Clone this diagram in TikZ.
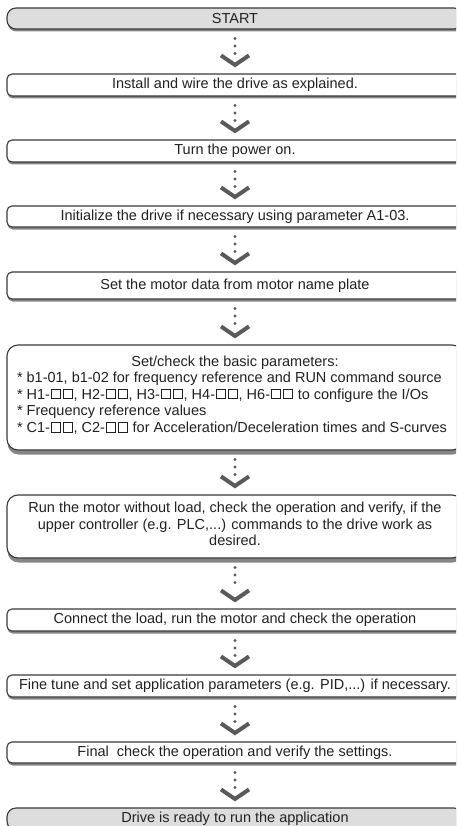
\documentclass[tikz,border=0pt]{standalone}
\usepackage{fontspec}
\setmainfont{Liberation Sans}
\usetikzlibrary{shadows,calc}
\definecolor{boxline}{HTML}{3A3A3A}
\definecolor{startfill}{HTML}{DDDDDD}
\definecolor{shadowcol}{HTML}{858585}
\definecolor{arrowcol}{HTML}{5A5A5A}
\definecolor{txt}{HTML}{222222}
\newcommand{\sqbox}{\hbox to 11.8pt{\hss\vbox{\hrule height 0.8pt\hbox{\vrule width 0.8pt\vbox to 8.6pt{\vss\hbox to 8.4pt{}}\vrule width 0.8pt}\hrule height 0.8pt}\hss}}
\tikzset{
  flowbase/.style={draw=boxline, line width=1.1pt, fill=white, rounded corners=5pt,
    minimum width=456pt, inner sep=0pt, text=txt,
    font=\fontsize{14.5}{16.6}\selectfont},
  flowbox/.style={flowbase, drop shadow={shadow xshift=0.6pt, shadow yshift=-2.5pt, fill=shadowcol, opacity=1}},
  termbox/.style={flowbox, fill=startfill, rounded corners=9pt},
  tallbox/.style={flowbase, rounded corners=11pt, drop shadow={shadow xshift=0.6pt, shadow yshift=-4.5pt, fill=shadowcol, opacity=1}},
  flowdots/.style={draw=arrowcol, line width=3.2pt, line cap=round, dash pattern=on 0pt off 7.5pt},
  flowvee/.style={draw=arrowcol, line width=4pt, line cap=butt, line join=miter},
}
\newcommand{\flowlink}[2]{%
  \draw[flowdots] ([yshift=-9pt]#1.south) -- ([yshift=-24.5pt]#1.south);
  \draw[flowvee] ([xshift=-14pt,yshift=18pt]#2.north) -- ([yshift=8.5pt]#2.north) -- ([xshift=14pt,yshift=18pt]#2.north);
}
\begin{document}
\begin{tikzpicture}
\useasboundingbox (0,0) rectangle (456pt,-826pt);
\clip (0,0) rectangle (456pt,-826pt);
\node[termbox, minimum height=21pt] (n1) at (235pt,-18.5pt) {START};
\node[flowbox, minimum height=22pt] (n2) at (235pt,-85pt) {Install and wire the drive as explained.};
\node[flowbox, minimum height=22pt] (n3) at (235pt,-151pt) {Turn the power on.};
\node[flowbox, minimum height=21pt] (n4) at (235pt,-216.5pt) {Initialize the drive if necessary using parameter A1-03.};
\node[flowbox, minimum height=27pt] (n5) at (235pt,-285.5pt) {Set the motor data from motor name plate};
\node[tallbox, minimum height=105pt, align=center] (n6) at (235pt,-397.5pt) {Set/check the basic parameters:\\
\makebox[436pt][l]{* b1-01, b1-02 for frequency reference and RUN command source}\\
\makebox[436pt][l]{* H1-\sqbox\sqbox, H2-\sqbox\sqbox, H3-\sqbox\sqbox, H4-\sqbox\sqbox, H6-\sqbox\sqbox\ to configure the I/Os}\\
\makebox[436pt][l]{* Frequency reference values}\\
\makebox[436pt][l]{* C1-\sqbox\sqbox, C2-\sqbox\sqbox\ for Acceleration/Deceleration times and S-curves}\rule[-7pt]{0pt}{7pt}};
\node[tallbox, minimum height=63pt, align=center] (n7) at (235pt,-526.5pt) {Run the motor without load, check the operation and verify, if the\\ upper controller (e.g. PLC,...) commands to the drive work as\\ desired.\rule[-5pt]{0pt}{5pt}};
\node[flowbox, minimum height=22pt] (n8) at (235pt,-620pt) {Connect the load, run the motor and check the operation};
\node[flowbox, minimum height=22pt] (n9) at (235pt,-686pt) {Fine tune and set application parameters (e.g. PID,...) if necessary.};
\node[flowbox, minimum height=21pt] (n10) at (235pt,-752.5pt) {Final\ \ check the operation and verify the settings.};
\node[termbox, minimum height=22pt] (n11) at (235pt,-819pt) {Drive is ready to run the application};
\flowlink{n1}{n2}
\flowlink{n2}{n3}
\flowlink{n3}{n4}
\flowlink{n4}{n5}
\flowlink{n5}{n6}
\flowlink{n6}{n7}
\flowlink{n7}{n8}
\flowlink{n8}{n9}
\flowlink{n9}{n10}
\flowlink{n10}{n11}
\end{tikzpicture}
\end{document}
